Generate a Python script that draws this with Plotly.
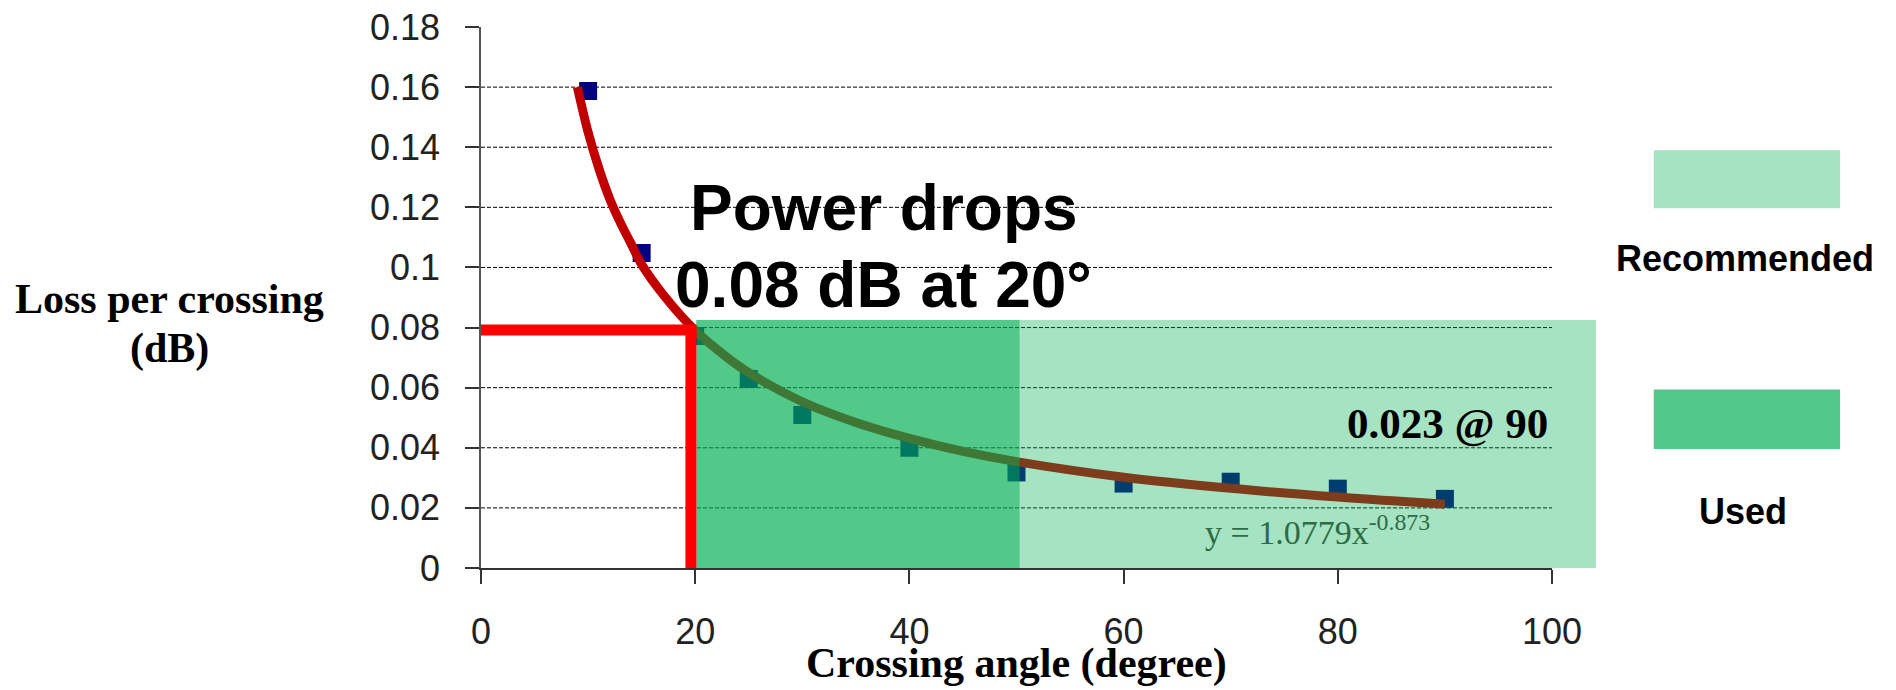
import plotly.graph_objects as go

# Measured loss per crossing vs crossing angle
angle = [10, 15, 20, 25, 30, 40, 50, 60, 70, 80, 90]
loss = [0.1587, 0.1048, 0.0772, 0.0629, 0.0509, 0.0400, 0.0318, 0.0281, 0.0287, 0.0264, 0.0230]

# Power-law trend line
fit_angle = [9, 10, 11, 12, 13, 14, 15, 17, 20, 23, 25, 30, 35, 40, 45, 50, 60, 70, 80, 90]
fit_loss = [0.160, 0.145, 0.133, 0.123, 0.115, 0.108, 0.101, 0.091, 0.079, 0.070, 0.065,
            0.0553, 0.0484, 0.0431, 0.0388, 0.0354, 0.0302, 0.0265, 0.0236, 0.0212]

# Highlighted ranges (degrees) and the 20 degree marker
used_range = [20.1, 50.3]
recommended_range = [50.3, 104.1]
range_top = 0.0825
mark_angle = 19.6
mark_loss = 0.0792

x_ticks = [0, 20, 40, 60, 80, 100]
y_ticks = [0, 0.02, 0.04, 0.06, 0.08, 0.1, 0.12, 0.14, 0.16, 0.18]
grid_vals = [0.02, 0.04, 0.06, 0.08, 0.1, 0.12, 0.14, 0.16]

x_min, x_max = 0, 100
y_min, y_max = 0, 0.18

SANS = "Liberation Sans, Arial, sans-serif"
SERIF = "Liberation Serif, Times New Roman, serif"
GREEN = "#00B050"


def xdom(v):
    return (v - x_min) / (x_max - x_min)


def ydom(v):
    return (v - y_min) / (y_max - y_min)


fig = go.Figure()
fig.add_trace(go.Scatter(
    x=angle, y=loss, mode="markers",
    marker=dict(symbol="square", size=18, color="#000080"),
    showlegend=False,
))
fig.add_trace(go.Scatter(
    x=fit_angle, y=fit_loss, mode="lines", line_shape="spline",
    line=dict(color="#C00000", width=9),
    showlegend=False,
))

shapes = []
# dashed gridlines
for g in grid_vals:
    shapes.append(dict(type="line", xref="x", yref="y", x0=x_min, x1=x_max, y0=g, y1=g,
                       line=dict(color="black", width=1, dash="4px,2px"), layer="below"))
# translucent ranges on top of the data
shapes.append(dict(type="rect", xref="x domain", yref="y domain",
                   x0=xdom(used_range[0]), x1=xdom(used_range[1]), y0=0, y1=ydom(range_top),
                   fillcolor=GREEN, opacity=0.68, line_width=0, layer="above"))
shapes.append(dict(type="rect", xref="x domain", yref="y domain",
                   x0=xdom(recommended_range[0]), x1=xdom(recommended_range[1]), y0=0, y1=ydom(range_top),
                   fillcolor=GREEN, opacity=0.35, line_width=0, layer="above"))
# red marker lines
shapes.append(dict(type="path", xref="x", yref="y",
                   path=f"M {x_min},{mark_loss} L {mark_angle},{mark_loss} L {mark_angle},{y_min}",
                   line=dict(color="#FF0000", width=11), layer="above"))
# legend boxes
shapes.append(dict(type="rect", xref="paper", yref="paper", x0=1.095, x1=1.269, y0=0.665, y1=0.772,
                   fillcolor="#A6E3C2", line_width=0))
shapes.append(dict(type="rect", xref="paper", yref="paper", x0=1.095, x1=1.269, y0=0.220, y1=0.330,
                   fillcolor="#52C98A", line_width=0))


def note(text, x, y, font, xref="x", yref="y", xanchor="center"):
    return dict(text=text, x=x, y=y, xref=xref, yref=yref, xanchor=xanchor, yanchor="middle",
                showarrow=False, font=font)


big = dict(family=SANS, size=64, color="black", weight="bold")
label = dict(family=SANS, size=36, color="black", weight="bold")
serif_b = dict(family=SERIF, size=42, color="black", weight="bold")

annotations = [
    note("Power drops", 37.6, 0.1197, big),
    note("0.08 dB at 20°", 37.6, 0.0941, big),
    note("0.023 @ 90", 99.8, 0.0482, dict(family=SERIF, size=43, color="black", weight="bold"),
         xanchor="right"),
    note("y = 1.0779x<sup>-0.873</sup>", 78.1, 0.0125, dict(family=SERIF, size=34, color="#2d6b45")),
    note("Recommended", 1.180, 0.5726, label, "paper", "paper"),
    note("Used", 1.178, 0.105, label, "paper", "paper"),
    note("Loss per crossing", -0.291, 0.498, serif_b, "paper", "paper"),
    note("(dB)", -0.291, 0.405, serif_b, "paper", "paper"),
    note("Crossing angle (degree)", 0.5, -0.177, serif_b, "paper", "paper"),
]

fig.update_layout(
    width=1896, height=690,
    margin=dict(l=473, r=352, t=19, b=130),
    plot_bgcolor="white", paper_bgcolor="white",
    shapes=shapes, annotations=annotations,
    showlegend=False,
)
fig.update_xaxes(
    range=[x_min, x_max], tickvals=x_ticks, showgrid=False, zeroline=False,
    showline=True, linecolor="#333", linewidth=1.5,
    ticks="outside", ticklen=14, tickcolor="#333", tickwidth=1.5,
    tickfont=dict(family=SANS, size=36, color="#222"), ticklabelstandoff=17,
    ticklabeloverflow="allow", automargin=False,
)
fig.update_yaxes(
    range=[y_min, y_max], tickvals=y_ticks, ticktext=[f"{v:g}" for v in y_ticks],
    showgrid=False, zeroline=False,
    showline=True, linecolor="#555", linewidth=1.5,
    ticks="outside", ticklen=14, tickcolor="#333", tickwidth=1.5,
    tickfont=dict(family=SANS, size=36, color="#222"), ticklabelstandoff=18,
    ticklabeloverflow="allow", automargin=False,
)

fig.write_html("out.html")
